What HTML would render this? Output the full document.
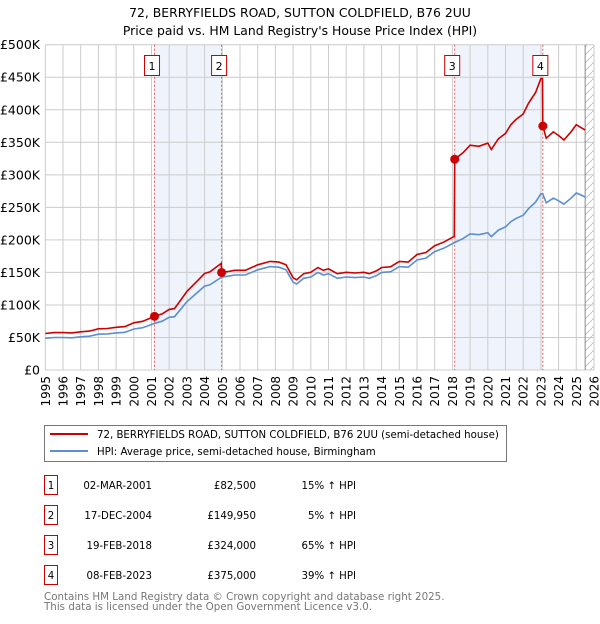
<!DOCTYPE html>
<html><head><meta charset="utf-8"><style>
body{margin:0;background:#fff;font-family:"DejaVu Sans","Liberation Sans",sans-serif;}
svg text{font-family:"DejaVu Sans","Liberation Sans",sans-serif;}
</style></head><body>
<svg id="chart" width="600" height="620" xmlns="http://www.w3.org/2000/svg">
<text x="300" y="17" text-anchor="middle" font-size="12.4" fill="#000">72, BERRYFIELDS ROAD, SUTTON COLDFIELD, B76 2UU</text>
<text x="300" y="35" text-anchor="middle" font-size="12.4" fill="#000">Price paid vs. HM Land Registry's House Price Index (HPI)</text>
<g id="plot"></g>
<g>
<rect x="44.5" y="425.5" width="462" height="36" fill="#fff" stroke="#777"/>
<line x1="50" y1="434" x2="88" y2="434" stroke="#cc0000" stroke-width="2"/>
<text x="97" y="438" font-size="10.2">72, BERRYFIELDS ROAD, SUTTON COLDFIELD, B76 2UU (semi-detached house)</text>
<line x1="50" y1="451" x2="88" y2="451" stroke="#5b8fd0" stroke-width="2"/>
<text x="97" y="455" font-size="10.2">HPI: Average price, semi-detached house, Birmingham</text>
</g>
<g id="table" font-size="10.2"></g>
<text x="44" y="600" font-size="10.3" fill="#777">Contains HM Land Registry data © Crown copyright and database right 2025.</text>
<text x="44" y="610" font-size="10.3" fill="#777">This data is licensed under the Open Government Licence v3.0.</text>
</svg>
<script>
const hpiYears=[1995,1995.5,1996,1996.5,1997,1997.5,1998,1998.5,1999,1999.5,2000,2000.5,2001,2001.17,2001.6,2002,2002.3,2002.7,2003,2003.5,2004,2004.3,2004.96,2005.3,2005.7,2006,2006.3,2007,2007.7,2008.2,2008.6,2009,2009.2,2009.6,2010,2010.4,2010.7,2011,2011.5,2012,2012.5,2013,2013.3,2013.7,2014,2014.5,2015,2015.5,2016,2016.5,2017,2017.5,2018.13,2018.6,2019,2019.5,2020,2020.2,2020.6,2021,2021.3,2021.6,2022,2022.3,2022.7,2023.0,2023.11,2023.3,2023.7,2024,2024.3,2024.7,2025,2025.5];
const hpiValues=[48.7,50,50,49.5,51,52,55,55.5,57,58,63,65,70,71.7,75,81,82,95,105,117,129,131,142.8,144,146,146,146,154,159,158,154,135,132,141,143,150,146,148,141,143,142,143,141,145,150,151,159,158,169,172,182,187,196,202,209,208,211,205,215,220,228,233,238,248,258,271,270.5,257,264,260,255,264,272,266];
const saleYears=[2001.17,2004.96,2018.13,2023.11];
const salePrices=[82.5,149.95,324,375];
const saleDates=["02-MAR-2001","17-DEC-2004","19-FEB-2018","08-FEB-2023"];
const salePriceLabels=["£82,500","£149,950","£324,000","£375,000"];
const saleHpiLabels=["15% ↑ HPI","5% ↑ HPI","65% ↑ HPI","39% ↑ HPI"];
const yTicks=[0,50,100,150,200,250,300,350,400,450,500];
const yTickLabels=["£0","£50K","£100K","£150K","£200K","£250K","£300K","£350K","£400K","£450K","£500K"];
const xTicks=[1995,1996,1997,1998,1999,2000,2001,2002,2003,2004,2005,2006,2007,2008,2009,2010,2011,2012,2013,2014,2015,2016,2017,2018,2019,2020,2021,2022,2023,2024,2025,2026];
const dataEnd=2025.5;

const NS="http://www.w3.org/2000/svg";
const X0=45.3,X1=594,Y0=370,Y1=44.7;
const xs=y=>X0+(y-1995)/(2026-1995)*(X1-X0);
const ys=v=>Y0-v/500*(Y0-Y1);
function mk(tag,attrs,parent){const e=document.createElementNS(NS,tag);for(const k in attrs)e.setAttribute(k,attrs[k]);parent.appendChild(e);return e;}
const plot=document.getElementById('plot');
function hpiAt(t){for(let i=0;i<hpiYears.length-1;i++){if(t<=hpiYears[i+1]){const f=(t-hpiYears[i])/(hpiYears[i+1]-hpiYears[i]);return hpiValues[i]+f*(hpiValues[i+1]-hpiValues[i]);}}return hpiValues[hpiValues.length-1];}

for(let i=0;i<saleYears.length;i+=2){
 const r=mk('rect',{x:xs(saleYears[i]),y:Y1,width:xs(saleYears[i+1])-xs(saleYears[i]),height:Y0-Y1,fill:'#eef3fc'},plot);
 
 
}
const defs=mk('defs',{},plot);
const pat=mk('pattern',{id:'hatch',width:8,height:8,patternUnits:'userSpaceOnUse'},defs);
mk('path',{d:'M0,8 L8,0',stroke:'#bbb','stroke-width':0.8},pat);
const h=mk('rect',{x:xs(dataEnd),y:Y1,width:X1-xs(dataEnd),height:Y0-Y1,fill:'url(#hatch)'},plot);


xTicks.forEach((t,i)=>{
 const l=mk('line',{x1:xs(t),x2:xs(t),y1:Y1,y2:Y0,stroke:'#cccccc','stroke-width':1},plot);
 
 
 const tx=mk('text',{x:0,y:0,'font-size':12,'text-anchor':'end',transform:`translate(${xs(t)+4.5},376) rotate(-90)`},plot);
 tx.textContent=t;
 
 
});
yTicks.forEach((v,i)=>{
 const l=mk('line',{x1:X0,x2:X1,y1:ys(v),y2:ys(v),stroke:'#cccccc','stroke-width':1},plot);
 
 
 const tx=mk('text',{x:40,y:ys(v)+4.5,'font-size':12.5,'text-anchor':'end'},plot);
 tx.textContent=yTickLabels[i];
 
 
});
const de=mk('line',{x1:xs(dataEnd),x2:xs(dataEnd),y1:Y1,y2:Y0,stroke:'#888','stroke-width':1},plot);


saleYears.forEach((s,i)=>{
 const l=mk('line',{x1:xs(s),x2:xs(s),y1:Y1,y2:Y0,stroke:'#e06060','stroke-width':1,'stroke-dasharray':'2,2'},plot);
 
 
 const b=mk('rect',{x:xs(s)-10,y:55.5,width:15,height:20,fill:'#fff',stroke:'#cc0000'},plot);
 
 
 const t=mk('text',{x:xs(s)-2.5,y:70,'font-size':11,'text-anchor':'middle'},plot);
 t.textContent=i+1;
 
 
});
let d='';
hpiYears.forEach((y,i)=>{d+=(i?'L':'M')+xs(y).toFixed(1)+','+ys(hpiValues[i]).toFixed(1);});
const hl=mk('path',{d:d,fill:'none',stroke:'#5b8fd0','stroke-width':1.6},plot);


function ratioAt(t){let k=-1;for(let i=0;i<saleYears.length;i++)if(t>=saleYears[i]-1e-9)k=i;const j=k<0?0:k;return salePrices[j]/hpiAt(saleYears[j]);}
let pts=[];
hpiYears.forEach((y,i)=>{
 const prev=i?hpiYears[i-1]:0;
 saleYears.forEach((s,j)=>{if(s>prev&&s<=y){pts.push([s-0.02,hpiAt(s-0.02)*ratioAt(s-0.05)]);pts.push([s,salePrices[j]]);}});
 pts.push([y,hpiValues[i]*ratioAt(y)]);
});
let d2='';pts.forEach((p,i)=>{d2+=(i?'L':'M')+xs(p[0]).toFixed(1)+','+ys(p[1]).toFixed(1);});
const pl=mk('path',{d:d2,fill:'none',stroke:'#cc0000','stroke-width':1.6},plot);


saleYears.forEach((s,i)=>{
 const c=mk('circle',{cx:xs(s),cy:ys(salePrices[i]),r:4.5,fill:'#cc0000'},plot);
 
 
});
const tb=document.getElementById('table');
saleDates.forEach((dt,i)=>{
 const y0=475+i*30;
 const r=mk('rect',{x:44.5,y:y0+0.5,width:13,height:19,fill:'#fff',stroke:'#cc0000'},tb);
 
 
 const vals=[[51,'middle',String(i+1)],[152,'end',dt],[256,'end',salePriceLabels[i]],[356,'end',saleHpiLabels[i]]];
 vals.forEach((v,k)=>{
  const t=mk('text',{x:v[0],y:y0+14,'text-anchor':v[1]},tb);
  t.textContent=v[2];
  
  
 });
});
</script>
</body></html>
